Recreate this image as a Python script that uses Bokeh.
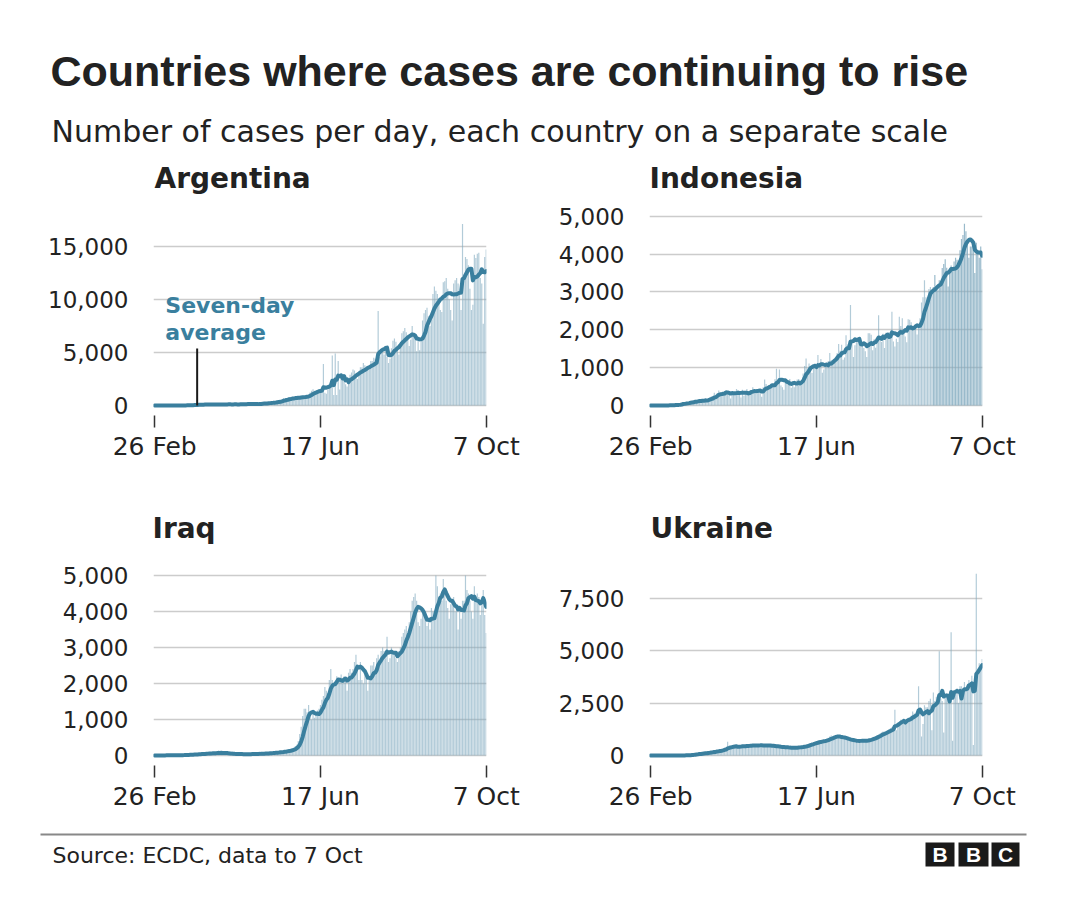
import numpy as np
import pandas as pd
from bokeh.plotting import figure
from bokeh.models import Range1d, FixedTicker, NumeralTickFormatter, Label, ColumnDataSource
from bokeh.layouts import column, row
from bokeh.embed import file_html
from bokeh.resources import INLINE

# ---------------- data (daily cases, 26 Feb .. 7 Oct 2020) ----------------
x_tick_days = [0, 112, 224]
x_tick_labels = ["26 Feb", "17 Jun", "7 Oct"]

argentina = [
    0, 0, 0, 0, 0, 0, 1,
    0, 0, 1, 7, 1, 2, 5,
    2, 3, 12, 3, 11, 9, 12,
    14, 31, 31, 30, 42, 41, 65,
    86, 87, 101, 55, 88, 75, 146,
    87, 132, 86, 79, 103, 76, 67,
    98, 112, 120, 116, 82, 68, 100,
    143, 135, 106, 98, 69, 102, 111,
    112, 124, 167, 137, 111, 104, 143,
    158, 143, 173, 112, 105, 86, 130,
    158, 218, 244, 240, 163, 129, 217,
    263, 316, 345, 308, 255, 236, 438,
    474, 467, 500, 703, 491, 552, 617,
    795, 642, 756, 809, 700, 585, 833,
    790, 830, 900, 880, 820, 750, 960,
    1226, 1386, 1531, 1391, 1281, 1141, 1480,
    1400, 1500, 3900, 1200, 1100, 1500, 1900,
    2000, 4700, 1000, 4900, 1000, 4200, 1500,
    2600, 2700, 2500, 2000, 1800, 2300, 2900,
    3100, 3400, 3300, 2900, 2500, 3000, 3600,
    3600, 4000, 3800, 3500, 3300, 3400, 4200,
    4200, 4500, 4400, 4300, 8900, 4600, 5100,
    5000, 4800, 5200, 4600, 4000, 4400, 5400,
    6100, 6300, 6000, 5500, 4800, 5600, 6800,
    7000, 7300, 6900, 6400, 5600, 6200, 7500,
    6800, 6600, 5100, 6200, 5200, 6300, 8000,
    8700, 9000, 9200, 8400, 7500, 8200, 10500,
    11200, 10800, 10500, 9800, 9000, 8800, 11600,
    11700, 12000, 11000, 10000, 9000, 8000, 11500,
    11800, 12000, 11500, 10500, 9000, 17100, 12000,
    14000, 13800, 13200, 11000, 9000, 9500, 14200,
    13900, 14300, 14400, 12000, 11500, 7700, 14000,
    14700,
]

indonesia = [
    0, 0, 0, 0, 0, 2, 0,
    0, 2, 0, 0, 2, 13, 8,
    7, 0, 35, 27, 21, 17, 38,
    55, 82, 60, 81, 64, 65, 106,
    105, 103, 153, 109, 130, 129, 114,
    149, 113, 196, 106, 181, 218, 247,
    218, 337, 219, 330, 399, 316, 282,
    297, 380, 407, 325, 327, 185, 375,
    283, 357, 436, 396, 275, 214, 415,
    260, 347, 433, 292, 349, 395, 484,
    367, 338, 436, 353, 387, 233, 484,
    689, 568, 490, 529, 489, 496, 486,
    693, 973, 634, 949, 526, 479, 415,
    686, 687, 557, 700, 467, 609, 484,
    585, 684, 703, 557, 672, 847, 1043,
    1241, 979, 1111, 1014, 857, 1017, 1106,
    1031, 1331, 1041, 1226, 862, 954, 1051,
    1113, 1178, 1385, 1198, 1082, 1209, 1293,
    1385, 1624, 1447, 1607, 1209, 1268, 1853,
    1611, 1574, 2657, 1681, 1282, 1591, 1655,
    1752, 1693, 1656, 1639, 1519, 1432, 1282,
    1909, 1906, 1868, 1462, 1752, 1522, 1693,
    2381, 1815, 1679, 1893, 1519, 1922, 1904,
    1942, 1882, 2473, 1693, 1560, 1762, 1679,
    2345, 2098, 2307, 1926, 1821, 1673, 2277,
    2266, 2197, 2090, 2037, 2088, 1877, 2144,
    2306, 2719, 2858, 3308, 2858, 2743, 3075,
    3128, 3035, 3131, 3444, 3141, 3046, 3307,
    3269, 3633, 3737, 3861, 3636, 3141, 3507,
    3700, 3635, 3800, 3900, 3850, 3600, 4100,
    4400, 4500, 4800, 4600, 4300, 3900, 4200,
    4200, 4100, 3500, 4300, 4100, 3900, 4200,
    3600,
]

iraq = [
    0, 1, 1, 2, 6, 2, 6,
    2, 5, 7, 5, 10, 10, 5,
    4, 11, 17, 8, 10, 14, 14,
    20, 25, 24, 30, 20, 28, 41,
    38, 30, 52, 48, 53, 40, 47,
    63, 60, 80, 50, 75, 70, 60,
    80, 95, 65, 72, 55, 80, 60,
    45, 40, 50, 35, 48, 42, 50,
    35, 28, 40, 30, 35, 42, 30,
    40, 45, 38, 50, 35, 45, 42,
    55, 50, 60, 52, 48, 65, 58,
    70, 80, 75, 68, 85, 90, 78,
    100, 120, 110, 95, 130, 115, 140,
    180, 150, 200, 170, 260, 300, 400,
    600, 800, 1100, 1300, 1300, 1200, 1400,
    1100, 1000, 1200, 1050, 1150, 1250, 1300,
    1400, 1550, 1650, 1900, 1800, 1600, 2100,
    2400, 2100, 1900, 2000, 2200, 2100, 2050,
    2250, 2000, 2200, 2150, 1800, 2300, 2400,
    2300, 2400, 2600, 2800, 2500, 2100, 2600,
    2100, 2000, 2300, 2200, 1800, 2100, 2500,
    2500, 2600, 2400, 2700, 2800, 2600, 2900,
    3000, 2900, 2700, 3300, 2600, 2700, 3000,
    2800, 2900, 2700, 2600, 2900, 3000, 3300,
    3400, 3500, 3600, 3300, 3700, 4000, 4300,
    4400, 4500, 4300, 3700, 3600, 3800, 4000,
    3900, 3800, 3600, 3700, 3500, 4100, 4000,
    4000, 5000, 4700, 4400, 4500, 4300, 4900,
    4500, 4300, 4100, 3800, 4200, 4300, 4400,
    4000, 4200, 3500, 4100, 3800, 4300, 4300,
    5000, 4600, 4500, 4300, 4000, 3800, 4700,
    4300, 4500, 4400, 3900, 4200, 4600, 3900,
    3400,
]

ukraine = [
    0, 0, 0, 0, 0, 0, 1,
    0, 0, 0, 0, 0, 0, 0,
    0, 2, 0, 0, 0, 0, 5,
    10, 8, 12, 26, 15, 20, 30,
    55, 45, 85, 110, 60, 95, 80,
    130, 120, 150, 100, 180, 140, 170,
    200, 220, 190, 250, 230, 240, 260,
    330, 380, 300, 650, 350, 420, 370,
    420, 480, 410, 430, 400, 450, 470,
    460, 480, 500, 450, 420, 490, 530,
    500, 480, 470, 450, 460, 500, 490,
    480, 470, 450, 460, 500, 430, 440,
    420, 400, 410, 430, 380, 390, 410,
    370, 360, 380, 340, 350, 390, 380,
    380, 400, 420, 390, 400, 450, 480,
    480, 520, 550, 600, 580, 560, 640,
    650, 680, 700, 720, 680, 660, 710,
    800, 850, 900, 950, 870, 880, 940,
    920, 900, 850, 800, 780, 830, 810,
    750, 720, 700, 680, 690, 710, 700,
    680, 700, 720, 690, 710, 730, 700,
    760, 800, 820, 850, 900, 880, 950,
    1000, 1050, 1100, 1150, 1080, 1120, 1200,
    1250, 1300, 1350, 1400, 2180, 1200, 1500,
    1600, 1700, 1650, 1750, 1600, 1700, 1800,
    1800, 1900, 2100, 2000, 1950, 2000, 3300,
    2100, 900, 1500, 2400, 2300, 2300, 2600,
    2700, 1200, 3000, 2600, 2800, 2900, 4970,
    2700, 2600, 1100, 2900, 2900, 2800, 3000,
    5880, 700, 2900, 3100, 3200, 2500, 3300,
    3300, 3200, 3500, 3100, 3400, 3600, 3500,
    3800, 500, 3700, 8670, 4000, 4400, 4300,
    4600,
]

argentina_ticks = [0, 5000, 10000, 15000]
indonesia_ticks = [0, 1000, 2000, 3000, 4000, 5000]
iraq_ticks = [0, 1000, 2000, 3000, 4000, 5000]
ukraine_ticks = [0, 2500, 5000, 7500]

# ---------------- styling ----------------
BAR = "#7fa9be"
LINE = "#3a7f9e"
TEXT = "#222222"
FONT = "DejaVu Sans"
TITLE_FONT = "Liberation Sans"


def panel(vals, y_start, y_end, yticks, left, right, dark_from=None):
    days = np.arange(len(vals))
    alpha = [0.6 if (dark_from is None or d < dark_from) else 0.8 for d in days]
    src = ColumnDataSource(dict(day=days, cases=vals, alpha=alpha,
                                avg=pd.Series(vals, dtype=float).rolling(7, min_periods=1).mean()))
    p = figure(width=532, height=270, output_backend="svg", toolbar_location=None, title=None,
               x_range=Range1d(-0.8, 224.2), y_range=Range1d(y_start, y_end),
               min_border_left=left, min_border_right=right,
               min_border_top=5, min_border_bottom=55)
    p.outline_line_color = None
    p.background_fill_color = "white"
    p.xgrid.visible = False
    p.ygrid.ticker = FixedTicker(ticks=yticks)
    p.ygrid.grid_line_color = "#cccccc"
    p.ygrid.grid_line_width = 1.5
    p.yaxis.ticker = FixedTicker(ticks=yticks)
    p.yaxis.formatter = NumeralTickFormatter(format="0,0")
    p.yaxis.axis_line_color = None
    p.yaxis.major_tick_line_color = None
    p.yaxis.minor_tick_line_color = None
    p.yaxis.major_label_standoff = 19
    p.yaxis.major_label_text_font = FONT
    p.yaxis.major_label_text_font_size = "23px"
    p.yaxis.major_label_text_color = TEXT
    p.xaxis.ticker = FixedTicker(ticks=x_tick_days)
    p.xaxis.major_label_overrides = {d: l for d, l in zip(x_tick_days, x_tick_labels)}
    p.xaxis.axis_line_color = None
    p.xaxis.major_tick_in = 0
    p.xaxis.major_tick_out = 12
    p.xaxis.major_tick_line_color = "#333333"
    p.xaxis.major_tick_line_width = 1.5
    p.xaxis.minor_tick_line_color = None
    p.xaxis.major_label_standoff = 4
    p.xaxis.major_label_text_font = FONT
    p.xaxis.major_label_text_font_size = "25px"
    p.xaxis.major_label_text_color = TEXT
    p.vbar(x="day", top="cases", width=0.8, source=src, fill_color=BAR,
           fill_alpha="alpha", line_color=None)
    p.line(x="day", y="avg", source=src, line_color=LINE, line_width=4,
           line_join="round", line_cap="round")
    return p


def blank(width, height):
    f = figure(width=width, height=height, output_backend="svg", toolbar_location=None, title=None,
               x_range=Range1d(0, width), y_range=Range1d(0, height),
               min_border=0, x_axis_location=None, y_axis_location=None)
    f.grid.visible = False
    f.outline_line_color = None
    return f


def text(f, x, y, s, size, bold=False, font=FONT, color=TEXT, align="left", baseline="middle"):
    f.add_layout(Label(x=x, y=y, text=s, text_font=font, text_font_size=size,
                       text_font_style="bold" if bold else "normal", text_color=color,
                       text_align=align, text_baseline=baseline))


# header (local y measured upward from the header bottom)
header = blank(1064, 192)
text(header, 42, 130, "Countries where cases are continuing to rise", "43px", True, TITLE_FONT)
text(header, 43, 69, "Number of cases per day, each country on a separate scale", "30px")
text(header, 146, 22, "Argentina", "28px", True)
text(header, 641, 22, "Indonesia", "28px", True)

pa = panel(argentina, -942, 18840, argentina_ticks, 145, 54)
pi = panel(indonesia, -264, 5282, indonesia_ticks, 109, 90, dark_from=191)
pq = panel(iraq, -278, 5556, iraq_ticks, 145, 54)
pu = panel(ukraine, -477, 9536, ukraine_ticks, 109, 90)

# annotation in Argentina panel
pa.segment(x0=[28.7], y0=[5370], x1=[28.7], y1=[0], line_color="#1a1a1a", line_width=2)
text(pa, 7.2, 9420, "Seven-day", "22px", True, color=LINE)
text(pa, 7.2, 6900, "average", "22px", True, color=LINE)

mid = blank(1064, 80)
text(mid, 144, 22, "Iraq", "28px", True)
text(mid, 642, 22, "Ukraine", "28px", True)

footer = blank(1064, 60)
footer.segment(x0=[32], y0=[46], x1=[1018], y1=[46], line_color="#888888", line_width=2)
text(footer, 44, 25, "Source: ECDC, data to 7 Oct", "22px")
footer.quad(left=[917, 950, 983], right=[946, 980, 1011], bottom=[14, 14, 14], top=[38, 38, 38],
            fill_color="#1a1a1a", line_color=None)
for cx, letter in zip([931.5, 965, 997], ["B", "B", "C"]):
    text(footer, cx, 26, letter, "21px", True, TITLE_FONT, color="white", align="center")

layout = column(header, row(pa, pi), mid, row(pq, pu), footer, margin=(8, 0, 0, 8))

open("out.html", "w").write(file_html(layout, INLINE))
